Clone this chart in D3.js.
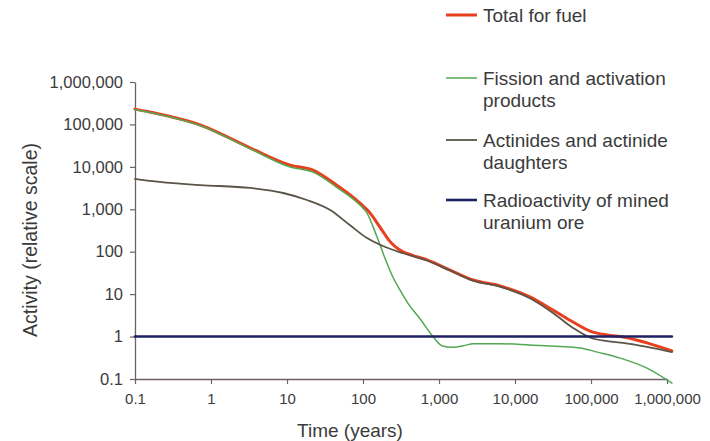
<!DOCTYPE html>
<html>
<head>
<meta charset="utf-8">
<script src="https://cdn.jsdelivr.net/npm/d3@7"></script>
<style>
  body { margin: 0; background: #fff; }
  svg { font-family: "Liberation Sans", Arial, sans-serif; }
  .tick text { fill: #3b3b3b; }
  .axis-label { fill: #3b3b3b; }
  .legend text { fill: #3b3b3b; }
</style>
</head>
<body>
<svg width="710" height="441"></svg>
<script>
// [time in years, relative activity]
const totalFuel = [
  [0.1, 230000], [0.157, 196000], [0.72, 97000], [3.3, 27800], [11, 11000],
  [22, 8400], [45, 3700], [91, 1400], [125, 800], [153, 480], [190, 270],
  [226, 175], [270, 128], [336, 100], [450, 82], [695, 64], [1400, 37],
  [2800, 21.5], [6350, 15.6], [15700, 8.6], [31600, 4.2], [58000, 2.2],
  [97000, 1.35], [163000, 1.09], [264000, 0.98], [546000, 0.71], [1160000, 0.46]
];

const fissionProducts = [
  [0.1, 226000], [0.157, 192000], [0.72, 94000], [3.3, 26500], [11, 9900],
  [22, 7500], [45, 3300], [91, 1260], [113, 816], [153, 222], [206, 54],
  [248, 25], [307, 12.5], [415, 5.2], [566, 2.6], [832, 1.0], [1115, 0.6],
  [1500, 0.56], [2200, 0.62], [2800, 0.68], [6350, 0.68], [15700, 0.63],
  [71600, 0.54], [121000, 0.43], [243000, 0.31], [546000, 0.18], [1160000, 0.08]
];

const actinides = [
  [0.1, 5200], [0.157, 4650], [0.72, 3730], [3.3, 3180], [8.9, 2420],
  [18.3, 1655], [37, 960], [67, 425], [113, 210], [183, 136], [336, 92],
  [695, 62], [1400, 36], [2800, 20.8], [6350, 15], [15700, 8],
  [31600, 3.6], [58000, 1.6], [97000, 0.95], [163000, 0.78], [264000, 0.71],
  [546000, 0.57], [1160000, 0.43]
];

const uraniumOre = [[0.1, 1], [1160000, 1]];

const xTicks = [0.1, 1, 10, 100, 1000, 10000, 100000, 1000000];
const yTicks = [0.1, 1, 10, 100, 1000, 10000, 100000, 1000000];

const legendItems = [
  { lines: ["Total for fuel"], color: "#e8401f", width: 3 },
  { lines: ["Fission and activation", "products"], color: "#52a852", width: 1.5 },
  { lines: ["Actinides and actinide", "daughters"], color: "#5b5548", width: 1.8 },
  { lines: ["Radioactivity of mined", "uranium ore"], color: "#1e2163", width: 2.6 }
];

// Set dimensions
const margin = { top: 82, right: 43, bottom: 62, left: 135 };
const width = 710 - margin.left - margin.right;
const height = 441 - margin.top - margin.bottom;

const svg = d3.select("svg")
              .append("g")
              .attr("transform", `translate(${margin.left},${margin.top})`);

const xScale = d3.scaleLog()
                .domain([0.1, 1000000])
                .range([0, width]);

const yScale = d3.scaleLog()
                .domain([0.1, 1000000])
                .range([height, 0]);

const fmt = d3.format(",");

// Axes
const xAxis = svg.append("g")
    .attr("transform", `translate(0, ${height})`)
    .call(d3.axisBottom(xScale).tickValues(xTicks).tickFormat(fmt)
          .tickSize(5).tickSizeOuter(0).tickPadding(9));

const yAxis = svg.append("g")
    .call(d3.axisLeft(yScale).tickValues(yTicks).tickFormat(fmt)
          .tickSize(5).tickSizeOuter(0).tickPadding(7));

xAxis.selectAll("text").style("font-size", "15px");
yAxis.selectAll("text").style("font-size", "16.5px");
[xAxis, yAxis].forEach(a => {
    a.select(".domain").attr("stroke", "#6d6068").attr("stroke-width", 1.3);
    a.selectAll(".tick line").attr("stroke", "#6d6068").attr("stroke-width", 1.2);
});

// Axis labels
svg.append("text")
    .attr("class", "axis-label")
    .attr("x", 350 - margin.left)
    .attr("y", height + 58)
    .attr("text-anchor", "middle")
    .style("font-size", "19px")
    .text("Time (years)");

svg.append("text")
    .attr("class", "axis-label")
    .attr("x", -(240 - margin.top))
    .attr("y", 37 - margin.left)
    .attr("text-anchor", "middle")
    .attr("transform", "rotate(-90)")
    .style("font-size", "19.5px")
    .text("Activity (relative scale)");

// Lines
const line = d3.line()
    .x(d => xScale(d[0]))
    .y(d => yScale(d[1]))
    .curve(d3.curveMonotoneX);

const series = [
    { data: totalFuel, item: legendItems[0] },
    { data: fissionProducts, item: legendItems[1] },
    { data: actinides, item: legendItems[2] },
    { data: uraniumOre, item: legendItems[3] }
];

series.forEach(s => {
    svg.append("path")
        .datum(s.data)
        .attr("fill", "none")
        .attr("stroke", s.item.color)
        .attr("stroke-width", s.item.width)
        .attr("stroke-linejoin", "round")
        .attr("stroke-linecap", "round")
        .attr("d", line);
});

// Legend (placed in page coordinates)
const legend = d3.select("svg").append("g").attr("class", "legend");
const legendY = [15, 78, 140, 200];

legendItems.forEach((item, i) => {
    const g = legend.append("g").attr("transform", `translate(446, ${legendY[i]})`);
    g.append("line")
        .attr("x1", 0).attr("x2", 31)
        .attr("stroke", item.color)
        .attr("stroke-width", item.width);
    item.lines.forEach((t, j) => {
        g.append("text")
            .attr("x", 37)
            .attr("y", j * 22)
            .attr("dy", "0.35em")
            .style("font-size", "19px")
            .text(t);
    });
});
</script>
</body>
</html>
